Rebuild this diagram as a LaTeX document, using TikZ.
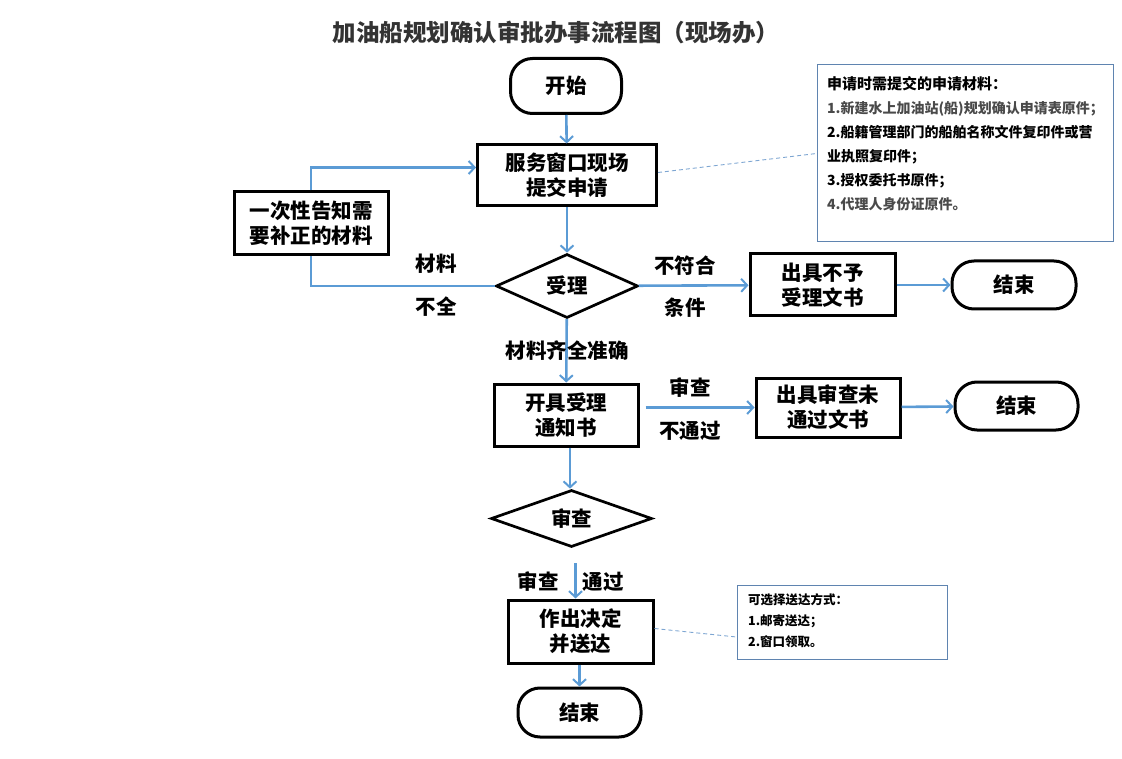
\documentclass[tikz,border=0pt]{standalone}
\usepackage{fontspec}
\setmainfont{Noto Sans CJK SC}
\usetikzlibrary{arrows.meta,shapes.geometric,calc}
\definecolor{flowblue}{HTML}{5B9BD5}
\definecolor{noteedge}{HTML}{5F84B0}
\definecolor{dashblue}{HTML}{7EA6D2}
\definecolor{titlegray}{HTML}{333333}
\begin{document}
\begin{tikzpicture}[x=1pt,y=-1pt,
  box/.style={draw=black,line width=3pt,align=center,inner sep=0pt,
    font=\fontsize{20.5}{25}\selectfont\bfseries},
  term/.style={box,rounded corners=22pt},
  dec/.style={box,diamond,aspect=2.2,line width=2.7pt},
  lbl/.style={font=\fontsize{20.5}{24}\selectfont\bfseries,inner sep=0pt},
  arr/.style={draw=flowblue,line width=2.6pt,-{Straight Barb[length=6pt,width=13pt,line width=2pt]}},
  link/.style={draw=flowblue,line width=2.6pt},
  note/.style={draw=noteedge,line width=1pt},
  notetext/.style={anchor=north west,align=left,inner sep=0pt},
  dashlink/.style={draw=dashblue,line width=0.9pt,dash pattern=on 4pt off 3pt}]
\useasboundingbox (0,0) rectangle (1122,759);

\node[font=\fontsize{23.5}{28}\selectfont\bfseries,text=titlegray] (title) at (556,33) {加油船规划确认审批办事流程图（现场办）};

\node[term,minimum width=111,minimum height=55] (st) at (566,86) {开始};
\node[box,minimum width=179,minimum height=61] (svc) at (567,175.5) {服务窗口现场\\提交申请};
\node[box,minimum width=154,minimum height=63] (sup) at (311,223.5) {一次性告知需\\要补正的材料};
\node[dec,minimum width=142,minimum height=64] (d1) at (567,286) {受理};
\node[box,minimum width=145,minimum height=62] (rej1) at (822.5,285) {出具不予\\受理文书};
\node[term,minimum width=124,minimum height=48] (e1) at (1014,285) {结束};
\node[box,minimum width=144,minimum height=62] (acc) at (566,415) {开具受理\\通知书};
\node[box,minimum width=144,minimum height=59] (rej2) at (828,407.5) {出具审查未\\通过文书};
\node[term,minimum width=123,minimum height=48] (e2) at (1016.5,406) {结束};
\node[dec,minimum width=161,minimum height=57] (d2) at (571.5,518.5) {审查};
\node[box,minimum width=145,minimum height=63] (dec) at (580.5,631.5) {作出决定\\并送达};
\node[term,minimum width=123,minimum height=49] (e3) at (579.5,712.5) {结束};

% notes
\node[note,minimum width=296,minimum height=177] (n1) at (965,153.5) {};
\node[notetext,font=\fontsize{14}{24}\selectfont\bfseries] (n1t) at (827,76) {%
{\fontsize{15}{24}\selectfont 申请时需提交的申请材料：}\\
\textcolor[HTML]{4A4A4A}{1.新建水上加油站(船)规划确认申请表原件；}\\
2.船籍管理部门的船舶名称文件复印件或营\\
业执照复印件；\\
3.授权委托书原件；\\
\textcolor[HTML]{4A4A4A}{4.代理人身份证原件。}};
\node[note,minimum width=210,minimum height=74] (n2) at (842,622) {};
\node[notetext,font=\fontsize{12.5}{21}\selectfont\bfseries] (n2t) at (748,593) {%
可选择送达方式：\\
1.邮寄送达；\\
2.窗口领取。};

% connectors
\draw[arr] (st) -- (svc);
\draw[arr] (svc) -- (d1);
\draw[arr] (d1) -- (rej1);
\draw[arr] (rej1) -- (e1);
\draw[arr] (d1) -- (acc);
\draw[link] (d1.west) -| (sup.south);
\draw[arr] (sup.north) |- ([yshift=8pt]svc.west);
\draw[arr] ([xshift=6pt]acc.east |- rej2) -- (rej2.west);
\draw[arr] (rej2) -- (e2);
\coordinate (a2) at (acc.south -| 570,0);
\draw[arr] (a2) -- (a2 |- d2.north);
\coordinate (b2) at ($(d2.south)+(4,15)$);
\draw[arr] (b2) -- (b2 |- dec.north);
\draw[arr] (dec.south -| e3.north) -- (e3.north);

\draw[dashlink] ([yshift=3pt]svc.east) -- (n1.west);
\draw[dashlink] ([yshift=3pt]dec.east) -- ($(n2.north west)!0.7!(n2.south west)$);

% labels
\node[lbl] (l1) at (436,264) {材料};
\node[lbl] (l2) at (436,307) {不全};
\node[lbl] (l3) at (685,266) {不符合};
\node[lbl] (l4) at (685,308) {条件};
\node[lbl] (l5) at (567,351) {材料齐全准确};
\node[lbl] (l6) at (690,388) {审查};
\node[lbl] (l7) at (690,431) {不通过};
\node[lbl] (l8) at (538,582) {审查};
\node[lbl] (l9) at (603,582) {通过};
\end{tikzpicture}
\end{document}
